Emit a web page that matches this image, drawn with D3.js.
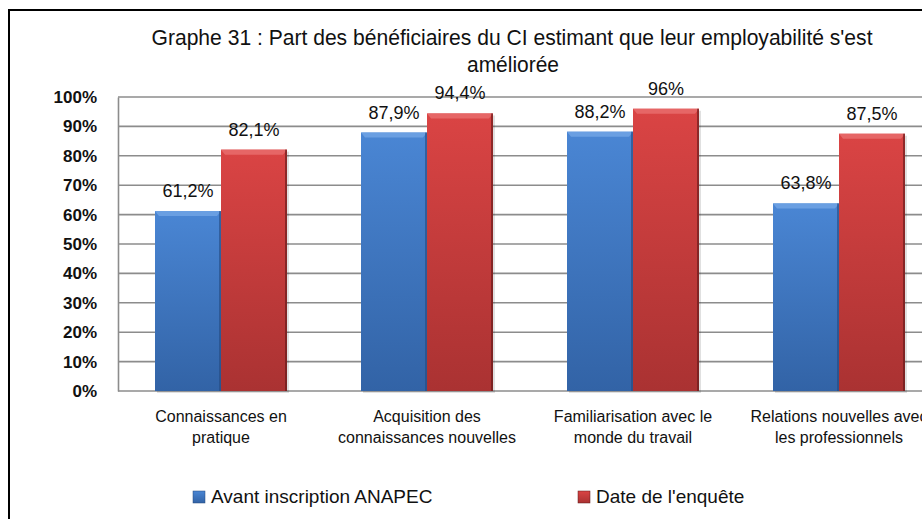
<!DOCTYPE html>
<html>
<head>
<meta charset="utf-8">
<script src="https://cdn.jsdelivr.net/npm/d3@7"></script>
<style>
  body { margin: 0; background: #fff; }
  text { font-family: "Liberation Sans", Arial, sans-serif; fill: #111; }
</style>
</head>
<body>
<svg id="chart" width="922" height="519"></svg>
<script>
// data
const categories = [
    ["Connaissances en", "pratique"],
    ["Acquisition des", "connaissances nouvelles"],
    ["Familiarisation avec le", "monde du travail"],
    ["Relations nouvelles avec", "les professionnels"]
];
const seriesNames = ["Avant inscription ANAPEC", "Date de l'enquête"];
const avantValues = [61.2, 87.9, 88.2, 63.8];
const enqueteValues = [82.1, 94.4, 96, 87.5];
const valueLabels = [["61,2%", "82,1%"], ["87,9%", "94,4%"], ["88,2%", "96%"], ["63,8%", "87,5%"]];
const yTicks = [0, 10, 20, 30, 40, 50, 60, 70, 80, 90, 100];

const svg = d3.select("#chart");
const margin = { top: 97, left: 118, bottom: 391, right: 942 };

// outer frame of the chart (runs off the picture to the right and bottom)
svg.append("rect")
    .attr("x", 9).attr("y", 10)
    .attr("width", 960).attr("height", 560)
    .attr("fill", "none").attr("stroke", "#000").attr("stroke-width", 2);

// gradients
const defs = svg.append("defs");
const colors = [
    { id: "gBlue", top: "#4a86d4", bottom: "#3263a6", cap: "#6a9fe2", edge: "#244a7e" },
    { id: "gRed", top: "#da4444", bottom: "#aa3232", cap: "#e66666", edge: "#5e1818" }
];
colors.forEach(c => {
    const g = defs.append("linearGradient").attr("id", c.id)
        .attr("x1", 0).attr("y1", 0).attr("x2", 0).attr("y2", 1);
    g.append("stop").attr("offset", "0%").attr("stop-color", c.top);
    g.append("stop").attr("offset", "100%").attr("stop-color", c.bottom);
});

const x0 = d3.scaleBand()
    .domain(d3.range(categories.length))
    .range([margin.left, margin.right]);

const x1 = d3.scaleBand()
    .domain([0, 1])
    .range([x0.bandwidth() / 2 - 66, x0.bandwidth() / 2 + 66]);

const y = d3.scaleLinear()
    .domain([0, 100])
    .range([margin.bottom, margin.top]);

// gridlines
svg.append("g")
    .selectAll("line")
    .data(yTicks)
    .enter().append("line")
    .attr("x1", margin.left).attr("x2", 922)
    .attr("y1", d => y(d)).attr("y2", d => y(d))
    .attr("stroke", "#8c8c8c").attr("stroke-width", 1.6);

// y axis
const yAxis = svg.append("g")
    .attr("transform", "translate(" + margin.left + ",0)")
    .call(d3.axisLeft(y).tickValues(yTicks).tickFormat(d => d + "%").tickSize(0).tickPadding(21));
yAxis.select(".domain").attr("stroke", "#8c8c8c").attr("stroke-width", 1.6);
yAxis.selectAll("text")
    .style("font-family", "'Liberation Sans', Arial, sans-serif")
    .style("font-size", "17px")
    .style("font-weight", "bold")
    .attr("fill", "#111");

// bars
const groups = svg.append("g")
    .selectAll("g")
    .data(categories.map((c, i) => [avantValues[i], enqueteValues[i]]))
    .enter().append("g")
    .attr("transform", (d, i) => "translate(" + x0(i) + ",0)");

groups.each(function (vals, gi) {
    const g = d3.select(this);
    vals.forEach((v, si) => {
        const c = colors[si];
        const bx = x1(si), bw = x1.bandwidth();
        const top = y(v), h = y(0) - y(v);
        // soft shadow
        g.append("rect")
            .attr("x", bx + 2).attr("y", top + 2)
            .attr("width", bw).attr("height", h)
            .attr("fill", "#000").attr("opacity", 0.12);
        g.append("rect")
            .attr("x", bx).attr("y", top)
            .attr("width", bw).attr("height", h)
            .attr("fill", "url(#" + c.id + ")");
        // bevel on top
        g.append("path")
            .attr("d", "M" + bx + "," + top + "h" + bw + "l-4,5h" + (-bw + 8) + "z")
            .attr("fill", c.cap);
        // dark right edge
        g.append("rect")
            .attr("x", bx + bw - 2).attr("y", top)
            .attr("width", 2).attr("height", h)
            .attr("fill", c.edge).attr("opacity", 0.6);
        g.append("text")
            .attr("x", bx + bw / 2)
            .attr("y", top - 14)
            .attr("text-anchor", "middle")
            .style("font-size", "18px")
            .attr("fill", "#222")
            .text(valueLabels[gi][si]);
    });
});

// category labels
svg.append("g")
    .selectAll("text")
    .data(categories)
    .enter().append("text")
    .attr("text-anchor", "middle")
    .attr("x", (d, i) => x0(i) + x0.bandwidth() / 2)
    .attr("y", 422)
    .style("font-size", "16px")
    .each(function (d) {
        const t = d3.select(this);
        d.forEach((line, k) => {
            t.append("tspan")
                .attr("x", t.attr("x"))
                .attr("dy", k === 0 ? 0 : 21)
                .text(line);
        });
    });

// title
const titleLines = ["Graphe 31 : Part des bénéficiaires du CI estimant que leur employabilité s'est", "améliorée"];
svg.append("text")
    .attr("x", 512).attr("y", 45)
    .attr("text-anchor", "middle")
    .style("font-size", "22px")
    .attr("textLength", 721)
    .attr("lengthAdjust", "spacingAndGlyphs")
    .text(titleLines[0]);
svg.append("text")
    .attr("x", 513).attr("y", 72)
    .attr("text-anchor", "middle")
    .style("font-size", "22px")
    .attr("textLength", 92)
    .attr("lengthAdjust", "spacingAndGlyphs")
    .text(titleLines[1]);

// legend
const legendX = [193, 578];
seriesNames.forEach((name, i) => {
    const c = colors[i];
    svg.append("rect")
        .attr("x", legendX[i]).attr("y", 491)
        .attr("width", 12).attr("height", 12)
        .attr("fill", "url(#" + c.id + ")")
        .attr("stroke", c.edge).attr("stroke-width", 0.5);
    svg.append("text")
        .attr("x", legendX[i] + 18).attr("y", 503)
        .style("font-size", "19px")
        .text(name);
});
</script>
</body>
</html>
